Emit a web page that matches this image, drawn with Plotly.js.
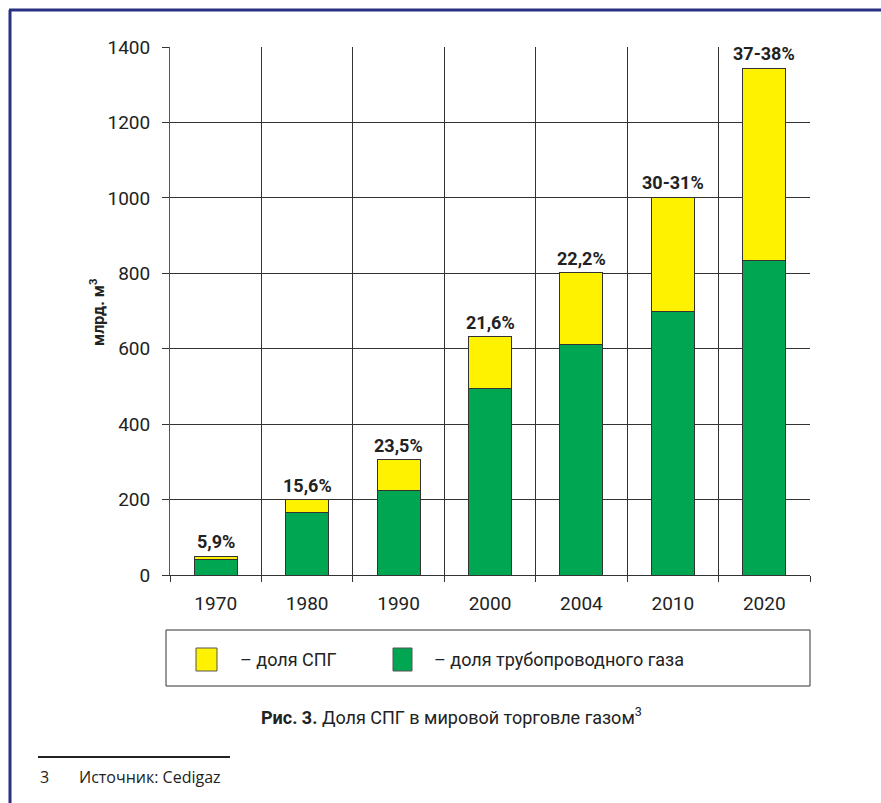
<!DOCTYPE html>
<html>
<head>
<meta charset="utf-8">
<script src="https://cdn.plot.ly/plotly-3.0.1.min.js"></script>
<style>html,body{margin:0;padding:0;background:#fff;}#chart{width:881px;height:803px;}</style>
</head>
<body>
<div id="chart"></div>
<script>
const years = ["1970", "1980", "1990", "2000", "2004", "2010", "2020"];
const pipeGas = [40, 167, 224, 495, 611, 700, 835];
const lngGas = [10, 33, 81, 137, 191, 302, 509];
const shareLabels = ["5,9%", "15,6%", "23,5%", "21,6%", "22,2%", "30-31%", "37-38%"];
const legendLabels = ["– доля СПГ", "– доля трубопроводного газа"];
const yTitle = "млрд. м<sup>3</sup>";
const caption = "<b>Рис. 3.</b> Доля СПГ в мировой торговле газом<sup>3</sup>";
const footnoteNum = "3";
const footnoteText = "Источник: Cedigaz";

const NARROW = "Roboto, Liberation Sans, sans-serif";
const YELLOW = "#fff200";
const GREEN = "#00a651";

const totals = years.map((y, i) => pipeGas[i] + lngGas[i]);

const traces = [
  {type: "bar", x: years, y: pipeGas, name: legendLabels[1], marker: {color: GREEN, line: {color: "#333", width: 1}}, showlegend: false, hoverinfo: "x+y"},
  {type: "bar", x: years, y: lngGas, name: legendLabels[0], marker: {color: YELLOW, line: {color: "#333", width: 1}}, showlegend: false, hoverinfo: "x+y"}
];

// annotations on a category axis take the category index
const annotations = years.map((y, i) => ({
  x: i, y: totals[i], xref: "x", yref: "y", text: "<b>" + shareLabels[i] + "</b>",
  showarrow: false, yanchor: "bottom", yshift: 2,
  font: {family: NARROW, size: 18, color: "#222"}
}));

function px(xp) { return (xp - 170) / 640; }
function py(yp) { return (575 - yp) / 528; }

annotations.push({
  xref: "paper", yref: "paper", x: px(97), y: py(313), xanchor: "center", yanchor: "middle", text: "<b>" + yTitle + "</b>",
  textangle: -90, showarrow: false, font: {family: NARROW, size: 16, color: "#222"}
});
// legend texts
annotations.push({xref: "paper", yref: "paper", x: px(238), y: py(659), xanchor: "left", yanchor: "middle",
  text: legendLabels[0], showarrow: false, font: {family: NARROW, size: 18, color: "#222"}});
annotations.push({xref: "paper", yref: "paper", x: px(432), y: py(659), xanchor: "left", yanchor: "middle",
  text: legendLabels[1], showarrow: false, font: {family: NARROW, size: 18, color: "#222"}});
// caption
annotations.push({xref: "paper", yref: "paper", x: px(451), y: py(716), xanchor: "center", yanchor: "middle",
  text: caption, showarrow: false, font: {family: NARROW, size: 18, color: "#222"}});
// footnote
annotations.push({xref: "paper", yref: "paper", x: px(38), y: py(777), xanchor: "left", yanchor: "middle",
  text: footnoteNum, showarrow: false, font: {family: "Open Sans, Noto Sans, sans-serif", size: 16, color: "#222"}});
annotations.push({xref: "paper", yref: "paper", x: px(77), y: py(777), xanchor: "left", yanchor: "middle",
  text: footnoteText, showarrow: false, font: {family: "Open Sans, Noto Sans, sans-serif", size: 16, color: "#222"}});

const shapes = [
  // outer frame
  {type: "line", xref: "paper", yref: "paper", x0: px(10), x1: px(10), y0: py(10), y1: py(803), line: {color: "#2a3183", width: 3}},
  {type: "line", xref: "paper", yref: "paper", x0: px(9), x1: px(881), y0: py(10), y1: py(10), line: {color: "#2a3183", width: 3}},
  // legend box
  {type: "rect", xref: "paper", yref: "paper", x0: px(166), x1: px(810), y0: py(630), y1: py(686), line: {color: "#333", width: 1}, fillcolor: "rgba(0,0,0,0)"},
  {type: "rect", xref: "paper", yref: "paper", x0: px(196), x1: px(217), y0: py(648), y1: py(671), line: {color: "#555", width: 1}, fillcolor: YELLOW},
  {type: "rect", xref: "paper", yref: "paper", x0: px(393), x1: px(412), y0: py(648), y1: py(671), line: {color: "#555", width: 1}, fillcolor: GREEN},
  // footnote rule
  {type: "line", xref: "paper", yref: "paper", x0: px(38), x1: px(230), y0: py(757), y1: py(757), line: {color: "#222", width: 2}}
];

const layout = {
  width: 881, height: 803,
  margin: {l: 170, r: 71, t: 47, b: 228},
  paper_bgcolor: "#fff", plot_bgcolor: "#fff",
  barmode: "stack", bargap: 0.53,
  showlegend: false,
  xaxis: {
    type: "category", categoryorder: "array", categoryarray: years,
    range: [-0.5, years.length - 0.5], autorange: false,
    tickson: "boundaries", showgrid: true, gridcolor: "#333", gridwidth: 1,
    ticks: "outside", ticklen: 6, tickcolor: "#333", ticklabelstandoff: 11,
    showline: true, linecolor: "#333", linewidth: 1, mirror: false,
    tickfont: {family: NARROW, size: 19, color: "#222"}, fixedrange: true
  },
  yaxis: {
    range: [0, 1400], autorange: false, dtick: 200, tick0: 0,
    showgrid: true, gridcolor: "#333", gridwidth: 1,
    ticks: "outside", ticklen: 7, tickcolor: "#333", ticklabelstandoff: 8,
    showline: true, linecolor: "#555", linewidth: 1,
    zeroline: false, tickfont: {family: NARROW, size: 19, color: "#222"}, fixedrange: true
  },
  annotations: annotations,
  shapes: shapes
};

Plotly.newPlot("chart", traces, layout, {staticPlot: true, displayModeBar: false});
</script>
</body>
</html>
